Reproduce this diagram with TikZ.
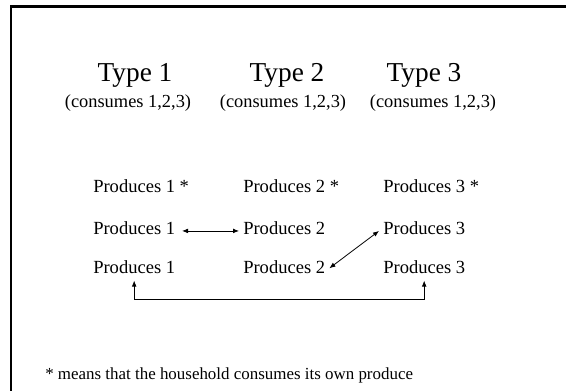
\documentclass[tikz,border=0pt]{standalone}
\usepackage{fontspec}
\setmainfont{Liberation Serif}
\usepackage{tikz}
\usetikzlibrary{arrows.meta,positioning}

\begin{document}
\begin{tikzpicture}[
x=0.75pt,y=-0.75pt,
head/.style={anchor=base,font=\fontsize{20.5}{24}\selectfont,inner sep=0pt},
cons/.style={anchor=base,font=\fontsize{13.8}{16}\selectfont,inner sep=0pt},
prod/.style={anchor=base west,font=\fontsize{13.9}{16}\selectfont,inner sep=3pt,text depth=0.25em},
note/.style={anchor=base west,font=\fontsize{12.7}{15}\selectfont,inner sep=0pt},
flow/.style={{Latex[length=4.5pt,width=3.6pt]}-{Latex[length=4.5pt,width=3.6pt]},line width=0.6pt},
frame/.style={line width=1.6pt}]
\useasboundingbox (0,0) rectangle (566,391);
\draw[frame] (11,391) -- (11,6.5) -- (566,6.5);
% household types
\node[head] (ty1) at (135,82) {Type 1};
\node[head] (ty2) at (287,82) {Type 2};
\node[head] (ty3) at (424,82) {Type 3};
\node[cons] (cons1) at (128,108) {(consumes 1,2,3)};
\node[cons] (cons2) at (283,108) {(consumes 1,2,3)};
\node[cons] (cons3) at (433,108) {(consumes 1,2,3)};
% production patterns
\node[prod] (p11) at (89,193) {Produces 1 *};
\node[prod] (p12) at (239,193) {Produces 2 *};
\node[prod] (p13) at (379,193) {Produces 3 *};
\node[prod] (p21) at (89,234) {Produces 1};
\node[prod] (p22) at (239,234) {Produces 2};
\node[prod] (p23) at (379,234) {Produces 3};
\node[prod] (p31) at (89,273) {Produces 1};
\node[prod] (p32) at (239,273) {Produces 2};
\node[prod] (p33) at (379,273) {Produces 3};
\coordinate (low) at (0,299);
\draw[flow,shorten <=2pt] (p21.mid east) -- (p22.mid west);
\draw[flow] (p32.east) -- (p23.mid west);
\draw[flow] (p31.south) -- (p31.south |- low) -| (p33.south);
\node[note] (fn) at (45,379) {* means that the household consumes its own produce};
\end{tikzpicture}
\end{document}
